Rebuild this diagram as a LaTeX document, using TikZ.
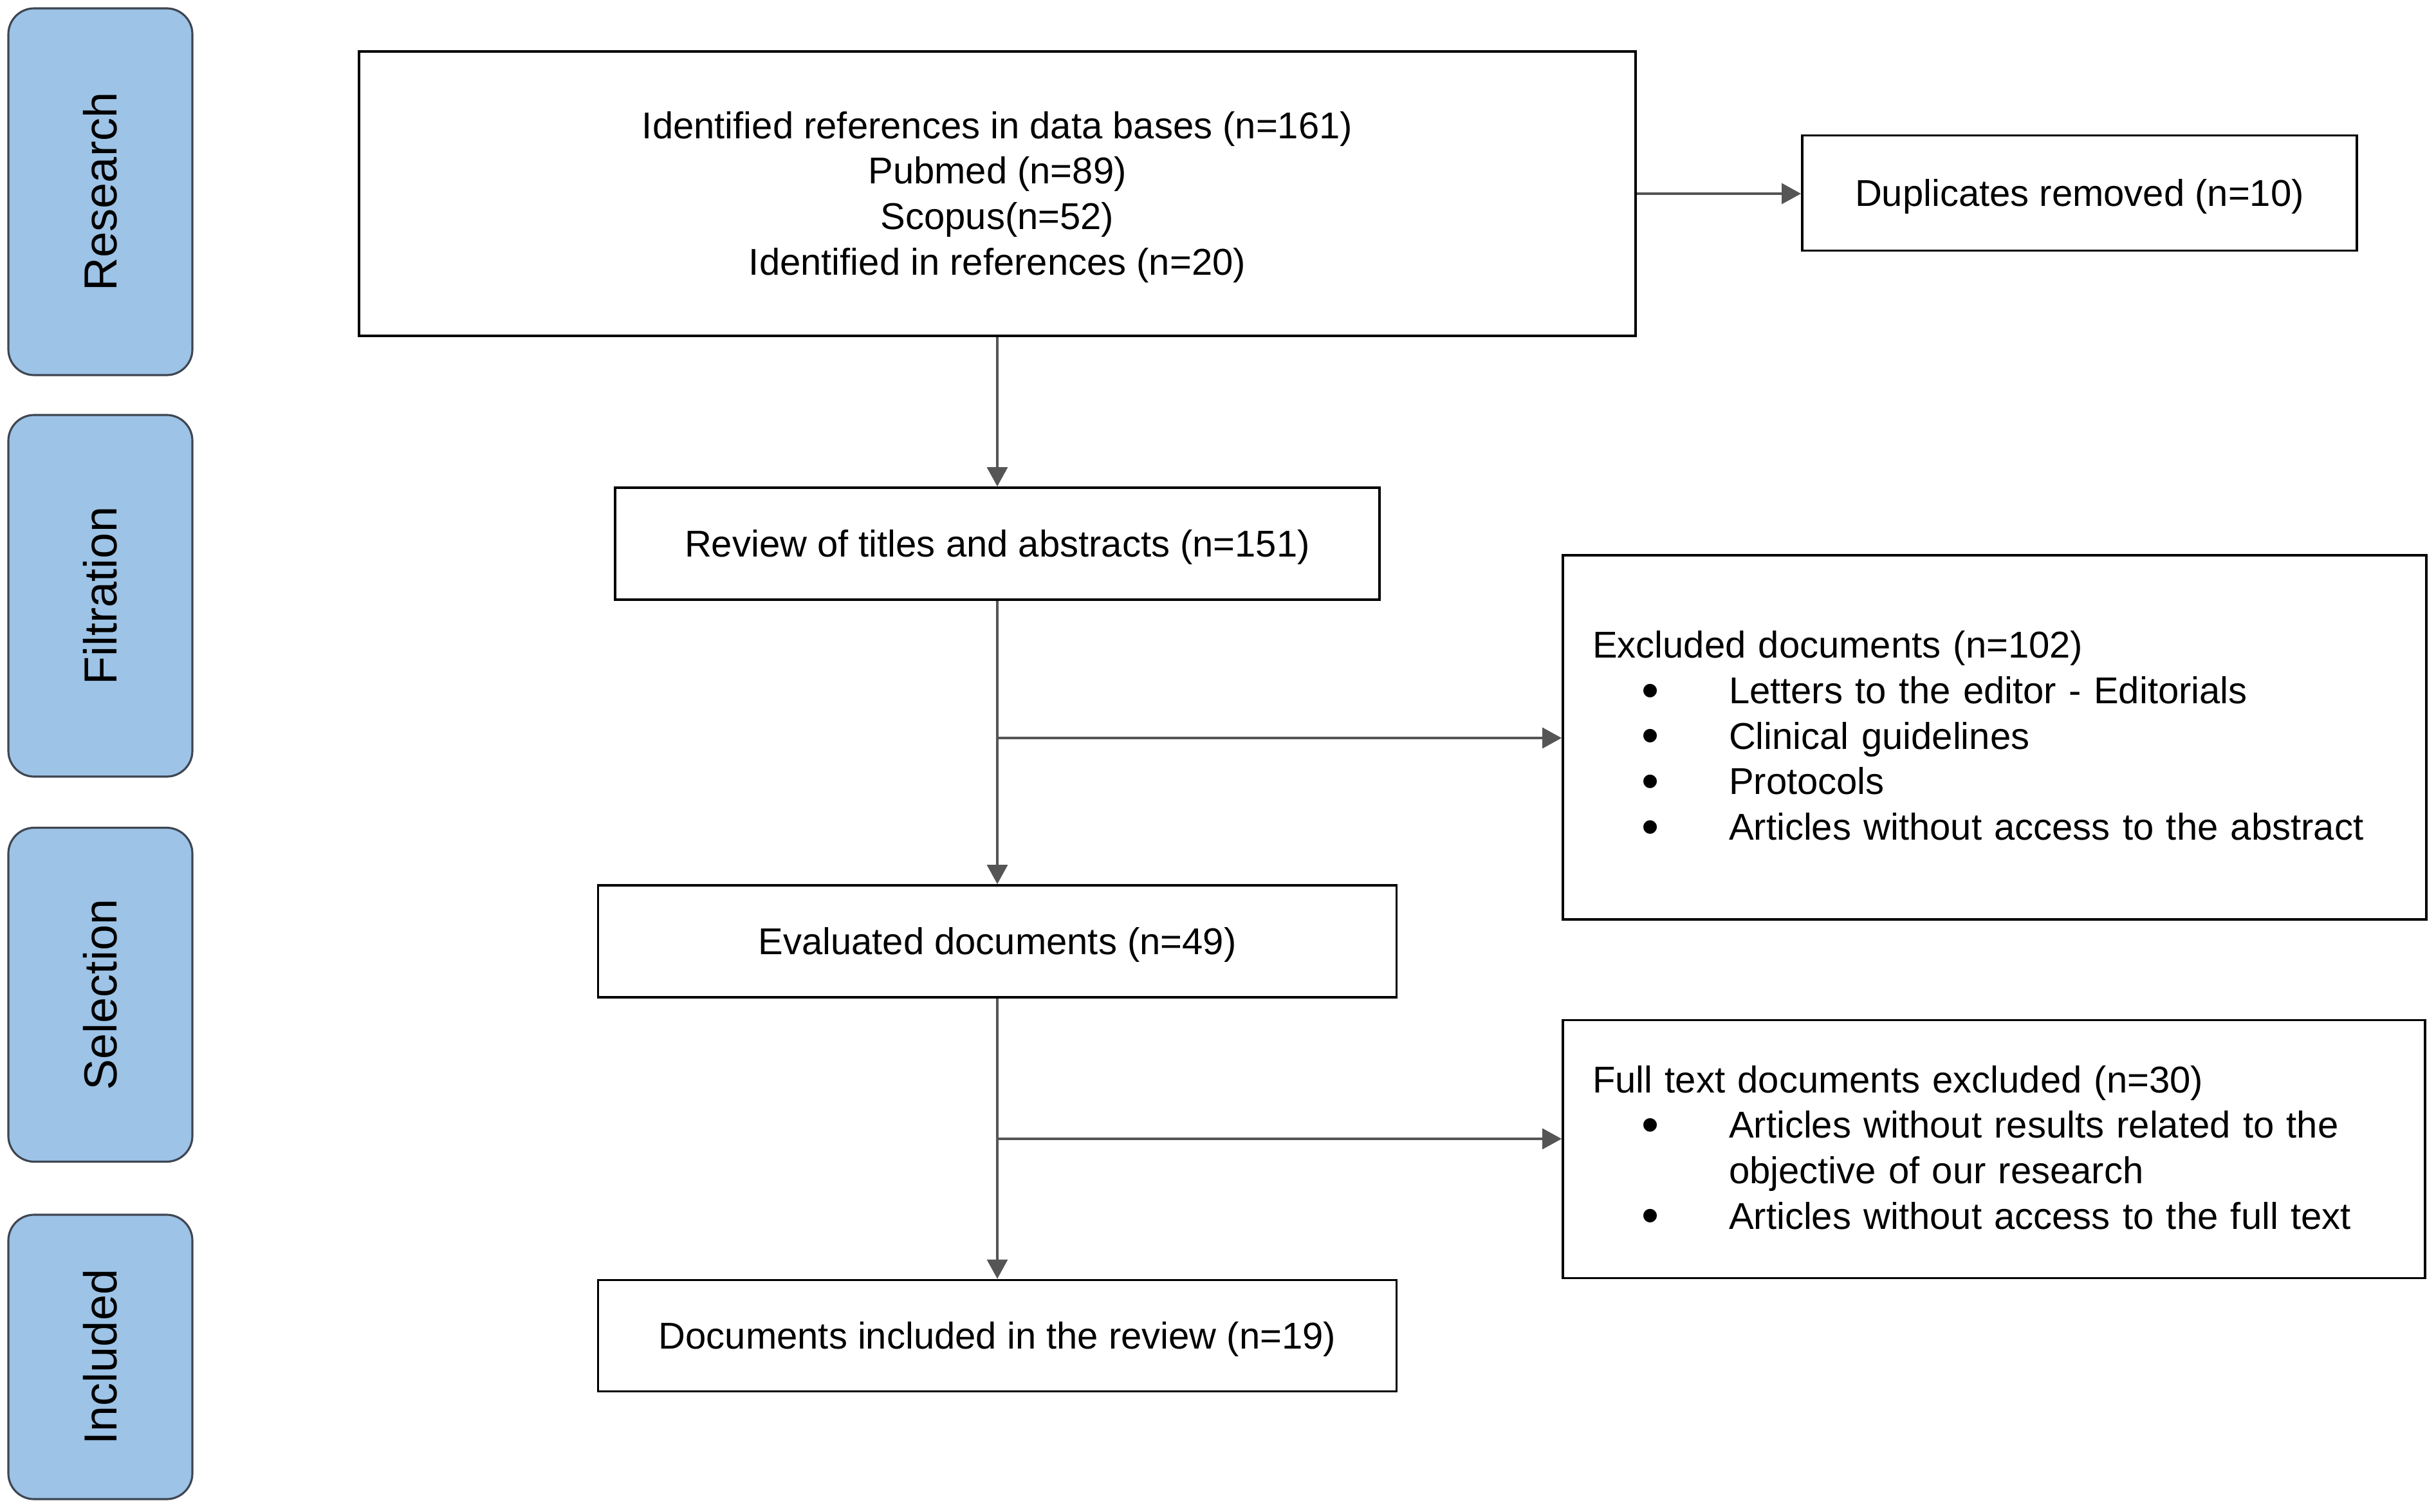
\documentclass[tikz,border=0pt]{standalone}
\usepackage{fontspec}
\setmainfont{Liberation Sans}
\usetikzlibrary{arrows.meta}

\definecolor{tabblue}{RGB}{157,195,230}
\definecolor{tabedge}{RGB}{62,70,82}
\definecolor{flowgray}{RGB}{85,85,85}
\newcommand{\flowitem}[1]{\hspace*{0.76cm}\makebox[1.36cm][l]{\raisebox{-1.6pt}{\fontsize{22}{20}\selectfont\textbullet}}#1}

\begin{document}
\begin{tikzpicture}[
        stage/.style={rectangle,rounded corners=0.4cm,fill=tabblue,draw=tabedge,
            line width=0.9pt,rotate=90,minimum height=2.86cm,inner sep=0pt,
            font=\fontsize{20.5}{24}\selectfont},
        box/.style={rectangle,draw=black,line width=1.1pt,inner sep=0pt,
            align=center,font=\fontsize{16.5}{20.1}\selectfont},
        onebox/.style={box,text height=14.9pt,text depth=3.5pt},
        listbox/.style={box,align=left,inner xsep=0.46cm},
        arr/.style={-{Triangle[length=0.3cm,width=0.32cm]},draw=flowgray,
            line width=1pt}]
    \useasboundingbox (0,0) rectangle (37.86,-23.5);

    % stages
    \node[stage,minimum width=5.70cm] at (1.56,-2.98) (research) {Research};
    \node[stage,minimum width=5.62cm] at (1.56,-9.26) (filtration) {Filtration};
    \node[stage,minimum width=5.19cm] at (1.56,-15.46) (selection) {Selection};
    \node[stage,minimum width=4.42cm] at (1.56,-21.09) (included) {Included};

    % flow
    \node[box,minimum width=19.84cm,minimum height=4.42cm] at (15.50,-3.01) (idref)
        {\rule{0pt}{14.9pt}Identified references in data bases (n=161)\\Pubmed (n=89)\\
         Scopus(n=52)\\Identified in references (n=20)};
    \node[onebox,minimum width=8.62cm,minimum height=1.79cm] at (32.32,-3.00) (dup)
        {Duplicates removed (n=10)};
    \node[onebox,minimum width=11.88cm,minimum height=1.74cm] at (15.50,-8.45) (review)
        {Review of titles and abstracts (n=151)};
    \node[onebox,minimum width=12.41cm,minimum height=1.74cm] at (15.50,-14.63) (eval)
        {Evaluated documents (n=49)};
    \node[onebox,minimum width=12.41cm,minimum height=1.73cm] at (15.50,-20.76) (incl)
        {Documents included in the review (n=19)};

    \node[listbox,text width=12.50cm,minimum height=5.66cm] at (31.00,-11.46) (excl)
        {Excluded documents (n=102)\\
         \flowitem{Letters to the editor - Editorials}\\
         \flowitem{Clinical guidelines}\\
         \flowitem{Protocols}\\
         \flowitem{Articles without access to the abstract}};
    \node[listbox,text width=12.48cm,minimum height=4.01cm] at (30.99,-17.86) (fulltext)
        {Full text documents excluded (n=30)\\
         \flowitem{Articles without results related to the}\\
         \hspace*{2.12cm}objective of our research\\
         \flowitem{Articles without access to the full text}};

    \coordinate (b1) at (15.50,-11.47);
    \coordinate (b2) at (15.50,-17.70);

    \draw[arr] (idref) -- (review);
    \draw[arr] (idref.east) -- (idref.east -| dup.west);
    \draw[arr] (review) -- (eval);
    \draw[arr] (eval) -- (incl);
    \draw[arr] (b1) -- (b1 -| excl.west);
    \draw[arr] (b2) -- (b2 -| fulltext.west);
\end{tikzpicture}
\end{document}
